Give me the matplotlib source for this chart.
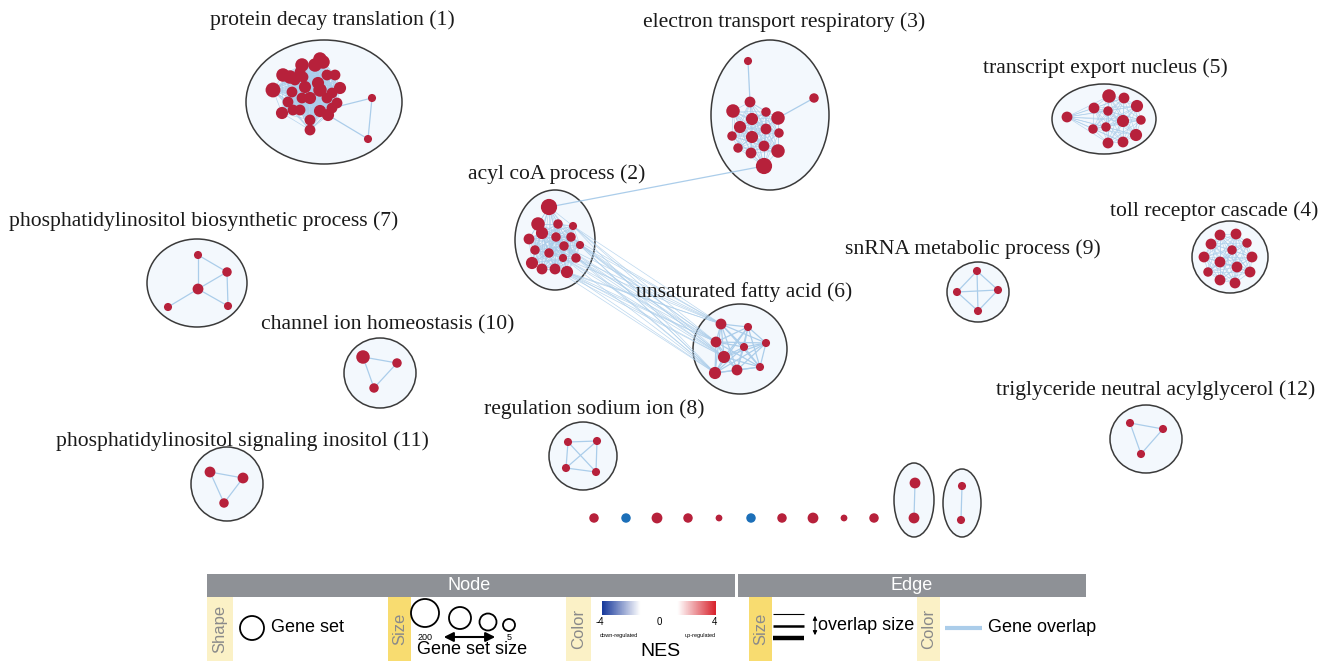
import matplotlib.pyplot as plt
import numpy as np
from itertools import combinations
from matplotlib.patches import Ellipse, Rectangle, Circle
from matplotlib.collections import LineCollection
from matplotlib.colors import LinearSegmentedColormap

# ---- network data (pixel coords of the layout, node radius) ----
nodes_1 = [(320, 59, 5), (323, 62, 5), (302, 65, 5), (315, 65, 5), (283, 75, 5), (290, 77, 5),
           (300, 72, 4), (303, 77, 4), (295, 80, 4), (273, 90, 5.5), (292, 92, 4), (305, 87, 4.5),
           (318, 83, 4.5), (320, 90, 5), (327, 75, 4), (335, 75, 4), (332, 93, 4), (340, 88, 4.5),
           (288, 102, 4), (302, 98, 4), (310, 98, 4.5), (327, 98, 4), (337, 103, 4), (332, 108, 4),
           (282, 113, 4.5), (293, 110, 4), (300, 110, 4), (320, 111, 4.5), (328, 115, 4.5),
           (310, 120, 4), (310, 130, 4)]
extra_1 = [(372, 98, 3), (368, 139, 3)]
nodes_2 = [(549, 207, 6), (538, 224, 5), (558, 224, 3.5), (573, 226, 3), (542, 233, 4.5),
           (529, 239, 4), (556, 237, 3.5), (571, 237, 3.5), (535, 250, 3.5), (564, 246, 3.5),
           (580, 245, 3), (549, 253, 3.5), (563, 258, 3), (576, 258, 3.5), (532, 263, 4.5),
           (542, 269, 4), (555, 269, 4), (567, 272, 4.5)]
nodes_3 = [(750, 102, 4), (733, 111, 5), (766, 112, 3.5), (778, 118, 5), (752, 119, 4.5),
           (740, 127, 4.5), (766, 129, 4), (779, 133, 3.5), (732, 136, 3.5), (752, 137, 4.5),
           (738, 148, 3.5), (764, 146, 4), (778, 151, 5), (751, 153, 4), (764, 166, 6)]
extra_3 = [(748, 61, 3), (814, 98, 3.5)]
nodes_4 = [(1220, 235, 4), (1236, 234, 4), (1211, 244, 4), (1232, 250, 3.5), (1247, 243, 3.5),
           (1204, 257, 4), (1252, 257, 4), (1220, 262, 4), (1237, 267, 4), (1208, 272, 3.5),
           (1250, 272, 4), (1220, 280, 4), (1235, 283, 4)]
nodes_5 = [(1067, 117, 4), (1094, 108, 4), (1109, 96, 5), (1124, 98, 4), (1137, 106, 4.5),
           (1108, 111, 3.5), (1123, 121, 4.5), (1141, 120, 3.5), (1093, 129, 3.5),
           (1106, 127, 3.5), (1136, 135, 4.5), (1108, 143, 4), (1123, 142, 4)]
nodes_6 = [(721, 324, 4), (748, 327, 3), (716, 342, 4), (744, 347, 3), (766, 343, 3),
           (724, 357, 4.5), (715, 373, 4.5), (737, 370, 4), (760, 367, 3)]
nodes_7 = [(198, 255, 3), (227, 272, 3.5), (198, 289, 4), (168, 307, 3), (228, 306, 3)]
edges_7 = [(0, 1), (0, 2), (1, 2), (1, 4), (2, 4), (2, 3)]
nodes_8 = [(568, 442, 3), (597, 441, 3), (566, 468, 3), (596, 472, 3)]
nodes_9 = [(977, 271, 3), (957, 292, 3), (998, 290, 3), (978, 311, 3)]
nodes_10 = [(363, 357, 5), (397, 363, 3.5), (374, 388, 3.5)]
nodes_11 = [(210, 472, 4), (243, 478, 4), (224, 503, 3.5)]
nodes_12 = [(1130, 423, 3), (1163, 429, 3), (1141, 454, 3)]
pair_a = [(915, 483, 4), (914, 518, 4)]
pair_b = [(962, 486, 3), (961, 520, 3)]

single_x = [594, 626, 657, 688, 719, 751, 782, 813, 844, 874]
single_r = [3.5, 3.5, 4, 3.5, 2.5, 3.5, 3.5, 4, 2.5, 3.5]
single_up = [True, False, True, True, True, False, True, True, True, True]

# ellipses: center x, center y, half width, half height
ellipses = [(324, 102, 78, 62), (555, 240, 40, 50), (770, 115, 59, 75), (1230, 257, 38, 36),
            (1104, 119, 52, 35), (740, 349, 47, 45), (197, 283, 50, 44), (583, 456, 34, 34),
            (978, 292, 31, 30), (380, 373, 36, 35), (227, 484, 36, 37), (1146, 439, 36, 34),
            (914, 500, 20, 37), (962, 503, 19, 34)]

labels = ["protein decay translation (1)", "electron transport respiratory (3)",
          "transcript export nucleus (5)", "acyl coA process (2)",
          "phosphatidylinositol biosynthetic process (7)", "toll receptor cascade (4)",
          "snRNA metabolic process (9)", "unsaturated fatty acid (6)",
          "channel ion homeostasis (10)", "triglyceride neutral acylglycerol (12)",
          "regulation sodium ion (8)", "phosphatidylinositol signaling inositol (11)"]
label_xy = [(332, 20), (784, 22), (1105, 68), (557, 174), (204, 221), (1214, 211),
            (973, 249), (744, 292), (388, 325), (1156, 390), (594, 409), (242, 441)]

RED = '#b7213b'
BLUE = '#1c6fb8'
EDGE = '#abcdea'
K = 1.35  # node radius scale

plt.rcParams['font.family'] = ['Liberation Sans', 'DejaVu Sans']

fig = plt.figure(figsize=(13.38, 6.61), dpi=100)
ax = fig.add_axes([0, 0, 1, 1])
ax.set_xlim(0, 1338)
ax.set_ylim(661, 0)
ax.axis('off')

for cx, cy, rx, ry in ellipses:
    ax.add_patch(Ellipse((cx, cy), 2 * rx, 2 * ry, facecolor='#f3f8fd',
                         edgecolor='#3a3a3a', lw=1.1, zorder=1))


def mesh(nodes):
    return [[(a[0], a[1]), (b[0], b[1])] for a, b in combinations(nodes, 2)]


segs = []
thin = []
for grp in [nodes_1, nodes_2, nodes_3, nodes_4, nodes_5]:
    thin += mesh(grp)
for grp in [nodes_6, nodes_8, nodes_9, nodes_10, nodes_11, nodes_12, pair_a, pair_b]:
    segs += mesh(grp)
segs += [[nodes_7[i][:2], nodes_7[j][:2]] for i, j in edges_7]
segs += [[nodes_1[23][:2], extra_1[0][:2]], [extra_1[0][:2], extra_1[1][:2]],
         [nodes_1[28][:2], extra_1[1][:2]]]
segs += [[extra_3[0][:2], nodes_3[0][:2]], [extra_3[1][:2], nodes_3[3][:2]]]
segs += [[nodes_2[0][:2], nodes_3[14][:2]]]
# acyl coA -> unsaturated fatty acid overlap
for a in [nodes_2[i] for i in (3, 7, 10, 13, 17, 12, 9, 16)]:
    for b in [nodes_6[i] for i in (0, 2, 5, 6)]:
        thin.append([a[:2], b[:2]])

ax.add_collection(LineCollection(thin, colors=EDGE, linewidths=0.5, alpha=0.8, zorder=2))
ax.add_collection(LineCollection(segs, colors=EDGE, linewidths=0.9, zorder=2))

for grp in [nodes_1, extra_1, nodes_2, nodes_3, extra_3, nodes_4, nodes_5, nodes_6, nodes_7,
            nodes_8, nodes_9, nodes_10, nodes_11, nodes_12, pair_a, pair_b]:
    for x, y, r in grp:
        ax.add_patch(Circle((x, y), r * K, facecolor=RED, edgecolor='none', zorder=3))
for x, r, up in zip(single_x, single_r, single_up):
    ax.add_patch(Circle((x, 518), r * K, facecolor=RED if up else BLUE,
                        edgecolor='none', zorder=3))

for txt, (x, y) in zip(labels, label_xy):
    ax.text(x, y, txt, ha='center', va='center', fontsize=15.6,
            family='Liberation Serif', color='#1a1a1a', zorder=4)

# ---- legend ----
ax.add_patch(Rectangle((207, 574), 528, 23, facecolor='#8e9196', edgecolor='none'))
ax.add_patch(Rectangle((738, 574), 348, 23, facecolor='#8e9196', edgecolor='none'))
ax.text(469, 586, "Node", color='white', ha='center', va='center', fontsize=13)
ax.text(912, 586, "Edge", color='white', ha='center', va='center', fontsize=13)

pale, bright = '#fbf1c6', '#f8dc70'
for x0, w, col, txt in [(207, 26, pale, "Shape"), (388, 23, bright, "Size"),
                        (566, 25, pale, "Color"), (749, 23, bright, "Size"),
                        (917, 23, pale, "Color")]:
    ax.add_patch(Rectangle((x0, 597), w, 64, facecolor=col, edgecolor='none'))
    ax.text(x0 + w / 2, 629, txt, rotation=90, ha='center', va='center',
            fontsize=12, color='#8a8a8a')

ax.add_patch(Circle((252, 628), 12, facecolor='none', edgecolor='black', lw=1.3))
ax.text(271, 628, "Gene set", ha='left', va='center', fontsize=13)

for x, y, r in [(425, 613, 14), (460, 618, 11), (488, 622, 8.5), (509, 625, 6)]:
    ax.add_patch(Circle((x, y), r, facecolor='none', edgecolor='black', lw=1.3))
ax.text(425, 637, "200", ha='center', va='center', fontsize=6.5)
ax.text(509, 637, "5", ha='center', va='center', fontsize=6.5)
ax.annotate("", xy=(441, 637), xytext=(498, 637),
            arrowprops=dict(arrowstyle='<|-|>', color='black', lw=1.5, mutation_scale=14))
ax.text(472, 649, "Gene set size", ha='center', va='center', fontsize=13)

cmap = LinearSegmentedColormap.from_list('nes', ['#17399b', '#ffffff', '#ffffff', '#d8232d'])
ax.imshow(np.linspace(-4, 4, 200)[None, :], cmap=cmap, aspect='auto',
          extent=(602, 716, 615, 601), zorder=2)
ax.set_xlim(0, 1338)
ax.set_ylim(661, 0)
for v, x in [("-4", 600), ("0", 659), ("4", 714)]:
    ax.text(x, 622, v, ha='center', va='center', fontsize=7)
ax.text(619, 636, "down-regulated", ha='center', va='center', fontsize=4)
ax.text(700, 636, "up-regulated", ha='center', va='center', fontsize=4)
ax.text(660, 651, "NES", ha='center', va='center', fontsize=14)

for y, lw in [(614, 0.8), (626, 1.8), (638, 3.2)]:
    ax.plot([773, 804], [y, y], color='black', lw=lw, solid_capstyle='butt')
ax.annotate("", xy=(815, 613), xytext=(815, 638),
            arrowprops=dict(arrowstyle='<|-|>', color='black', lw=0.8, mutation_scale=6))
ax.text(818, 626, "overlap size", ha='left', va='center', fontsize=13)
ax.plot([945, 982], [628, 628], color=EDGE, lw=3, solid_capstyle='butt')
ax.text(988, 628, "Gene overlap", ha='left', va='center', fontsize=13)

fig.savefig('out.png', dpi=100)
